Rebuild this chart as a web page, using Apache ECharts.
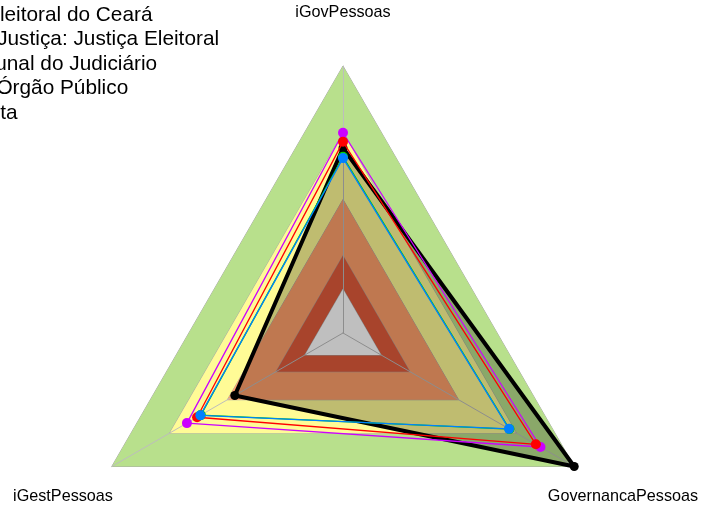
<!DOCTYPE html>
<html>
<head>
<meta charset="utf-8">
<script src="https://cdn.jsdelivr.net/npm/echarts@6/dist/echarts.min.js"></script>
<style>
  html, body { margin: 0; padding: 0; background: #fff; }
  #chart { width: 701px; height: 508px; }
</style>
</head>
<body>
<div id="chart"></div>
<script>
// eixos do radar (ordem anti-horária a partir do topo)
var indicators = ['iGovPessoas', 'iGestPessoas', 'GovernancaPessoas']

// faixas de fundo (limite externo de cada faixa)
var bandLimits = [1.0, 0.75, 0.5, 0.29, 0.165]
var bandColors = ['#B8E08C', '#FFFB96', '#FFA06B', '#E05B3B', '#FFFFFF']

// séries
var seriesNames = [
  'Tribunal Regional Eleitoral do Ceará',
  'Média — Ramo de Justiça: Justiça Eleitoral',
  'Média Geral p/ Tribunal do Judiciário',
  'Média, por Tipo de Órgão Público',
  'Valor Esperado: Meta'
]
var trece = [0.716, 0.631, 0.834]
var ramoJustica = [0.75, 0.675, 0.854]
var judiciario = [0.66, 0.615, 0.72]
var orgaoPublico = [0.655, 0.617, 0.718]
var meta = [0.693, 0.468, 1.0]

var CX = 343
var CY = 333
var R = 267

var chart = echarts.init(document.getElementById('chart'))

var bandData = bandLimits.map(function (v, i) {
  return {
    value: [v, v, v],
    areaStyle: { color: bandColors[i], opacity: 1 },
    lineStyle: { color: '#A8A8A8', width: 1 }
  }
})

function lineSeries (name, values, color, z) {
  return {
    name: name,
    type: 'radar',
    z: z,
    symbol: 'circle',
    symbolSize: 10,
    itemStyle: { color: color },
    lineStyle: { color: color, width: 1.3 },
    data: [{ value: values, name: name }]
  }
}

// rótulos dos eixos
var labelPos = [[343, 13], [63, 497], [623, 497]]
var labelTexts = indicators.map(function (name, i) {
  return {
    type: 'text',
    x: labelPos[i][0],
    y: labelPos[i][1],
    style: {
      text: name,
      fill: '#000',
      font: '16.2px "Liberation Sans", Arial',
      align: 'center',
      verticalAlign: 'middle'
    }
  }
})

var option = {
  animation: false,
  backgroundColor: '#fff',
  legend: {
    orient: 'vertical',
    left: -217,
    top: -2,
    itemWidth: 25,
    itemHeight: 24,
    itemGap: 0.5,
    icon: 'rect',
    data: seriesNames,
    selectedMode: false,
    textStyle: {
      color: '#000',
      fontSize: 20.8,
      fontFamily: '"Liberation Sans", Arial'
    }
  },
  radar: {
    center: [CX, CY],
    radius: R,
    startAngle: 90,
    shape: 'polygon',
    z: 2,
    indicator: indicators.map(function (n) { return { name: n, min: 0, max: 1 } }),
    axisName: { show: false },
    splitNumber: 1,
    splitLine: { show: false },
    splitArea: { show: false },
    axisLine: { lineStyle: { color: '#BDBDBD', width: 1 } },
    axisTick: { show: false },
    axisLabel: { show: false }
  },
  graphic: labelTexts,
  series: [
    {
      name: 'faixas',
      type: 'radar',
      z: 1,
      silent: true,
      symbol: 'none',
      data: bandData
    },
    {
      name: seriesNames[4],
      type: 'radar',
      z: 3,
      symbol: 'circle',
      symbolSize: 9,
      itemStyle: { color: '#000' },
      lineStyle: { color: '#000', width: 4 },
      areaStyle: { color: '#000', opacity: 0.25 },
      data: [{ value: meta, name: seriesNames[4] }]
    },
    lineSeries(seriesNames[2], judiciario, '#00D000', 4),
    lineSeries(seriesNames[1], ramoJustica, '#CC00FF', 5),
    lineSeries(seriesNames[0], trece, '#FF0000', 6),
    lineSeries(seriesNames[3], orgaoPublico, '#0080FF', 7)
  ]
}

chart.setOption(option)
window.addEventListener('resize', function () {
  chart.resize()
})
</script>
</body>
</html>
